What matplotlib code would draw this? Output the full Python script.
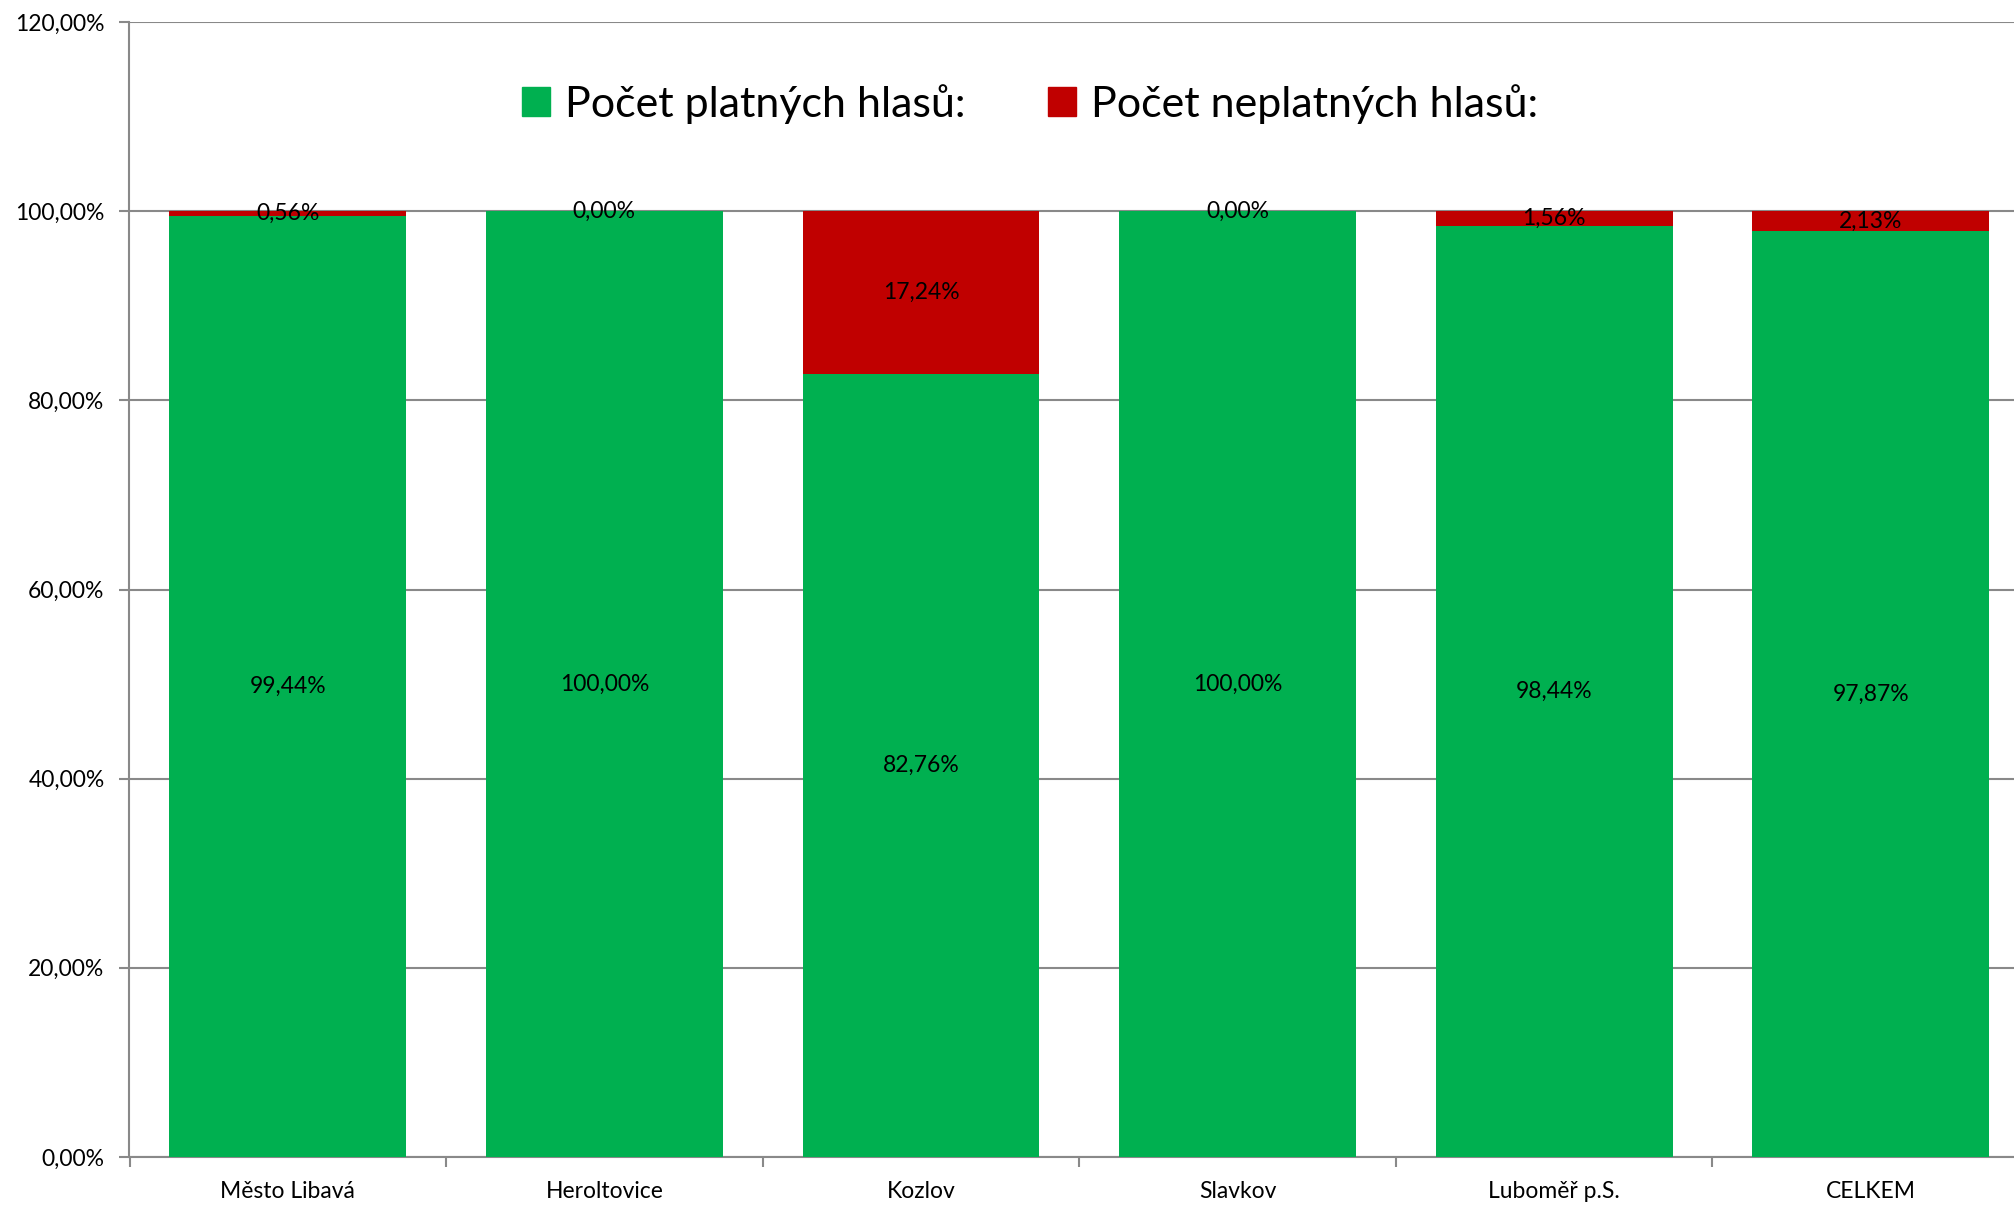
import numpy as np
import matplotlib
matplotlib.use("Agg")
import matplotlib.pyplot as plt
from matplotlib.patches import Patch
from matplotlib.ticker import FuncFormatter, MultipleLocator

plt.rcParams["font.family"] = ["Lato", "DejaVu Sans"]

obce = ["Město Libavá", "Heroltovice", "Kozlov", "Slavkov", "Luboměř p.S.", "CELKEM"]
platne = [99.44, 100.00, 82.76, 100.00, 98.44, 97.87]
neplatne = [0.56, 0.00, 17.24, 0.00, 1.56, 2.13]

zelena = "#00B050"
cervena = "#C00000"
seda = "#898989"

def procenta(v):
    return f"{v:.2f}".replace(".", ",") + "%"

fig = plt.figure(figsize=(20.15, 12.07), dpi=100)
ax = fig.add_axes([129.5 / 2015, 50 / 1207, (2029 - 129.5) / 2015, (1157 - 22) / 1207])

x = np.arange(len(obce))
sirka = 0.748
ax.bar(x, platne, sirka, color=zelena, zorder=3)
ax.bar(x, neplatne, sirka, bottom=platne, color=cervena, zorder=3)

for i in range(len(obce)):
    ax.text(x[i], platne[i] / 2, procenta(platne[i]), ha="center", va="center",
            fontsize=16.5, zorder=4)
    ax.text(x[i], platne[i] + neplatne[i] / 2, procenta(neplatne[i]), ha="center",
            va="center", fontsize=16.5, zorder=4)

ax.set_xlim(-0.5, len(obce) - 0.5)
ax.set_ylim(0, 120)
ax.yaxis.set_major_locator(MultipleLocator(20))
ax.yaxis.set_major_formatter(FuncFormatter(lambda v, p: procenta(v)))
ax.grid(axis="y", color=seda, linewidth=1.5, zorder=0)

ax.set_xticks(x)
ax.set_xticklabels(obce)
ax.set_xticks(np.arange(len(obce) + 1) - 0.5, minor=True)
ax.tick_params(axis="x", which="major", length=0, pad=17, labelsize=16.5)
ax.tick_params(axis="x", which="minor", length=7, width=1.5, color=seda)
ax.tick_params(axis="y", length=7, width=1.5, color=seda, pad=11, labelsize=16.5)

for s in ["top", "right"]:
    ax.spines[s].set_visible(False)
for s in ["left", "bottom"]:
    ax.spines[s].set_color(seda)
    ax.spines[s].set_linewidth(1.5)

handles = [Patch(color=zelena, label="Počet platných hlasů:"),
           Patch(color=cervena, label="Počet neplatných hlasů:")]
fig.legend(handles=handles, loc="center", bbox_to_anchor=(1030 / 2015, 1 - 104 / 1207),
           ncol=2, frameon=False, fontsize=31, handlelength=0.65, handleheight=0.65,
           handletextpad=0.35, columnspacing=1.9)

fig.savefig("out.png", dpi=100)
